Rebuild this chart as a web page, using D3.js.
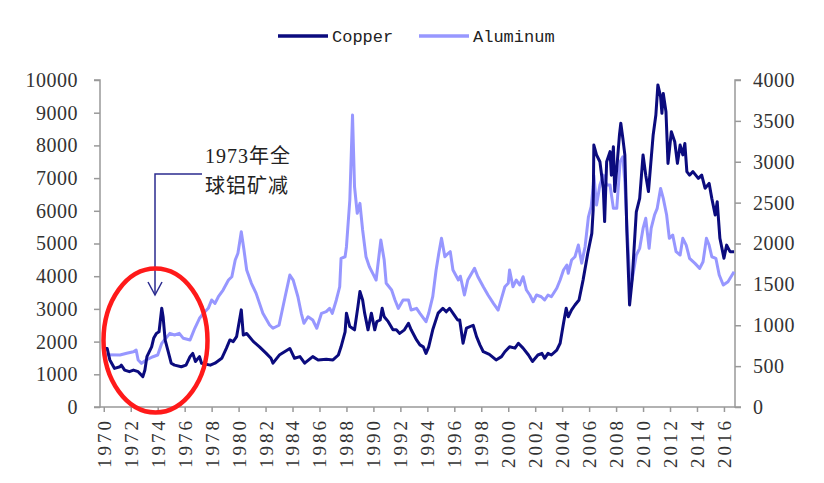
<!DOCTYPE html>
<html>
<head>
<meta charset="utf-8">
<script src="https://cdn.jsdelivr.net/npm/d3@7/dist/d3.min.js"></script>
<style>
  html, body { margin: 0; padding: 0; background: #fff; }
  svg { display: block; }
</style>
</head>
<body>
<div id="chart"></div>
<script>
// ---- Data ----
const seriesNames = ["Copper", "Aluminum"];
const yearTicks = d3.range(1970, 2017, 2);
const leftTicks = [0,1000,2000,3000,4000,5000,6000,7000,8000,9000,10000];
const rightTicks = [0,500,1000,1500,2000,2500,3000,3500,4000];

const copperYears = [1970.0,1970.25,1970.45,1970.8,1971.2,1971.3,1971.55,1971.9,1972.2,1972.55,1972.9,1973.05,1973.2,1973.55,1973.7,1973.9,1974.1,1974.3,1974.4,1974.55,1974.75,1975.0,1975.25,1975.75,1976.1,1976.4,1976.6,1976.8,1977.1,1977.25,1977.9,1978.25,1978.75,1979.1,1979.35,1979.6,1979.85,1980.2,1980.35,1980.6,1981.1,1981.55,1982.05,1982.4,1982.55,1983.05,1983.8,1984.15,1984.55,1984.9,1985.5,1985.9,1986.5,1987.0,1987.4,1987.6,1987.9,1988.0,1988.25,1988.6,1988.85,1989.0,1989.2,1989.35,1989.6,1989.85,1990.1,1990.25,1990.5,1990.65,1990.8,1991.1,1991.45,1991.7,1991.95,1992.3,1992.6,1992.8,1993.2,1993.45,1993.7,1993.9,1994.1,1994.4,1994.8,1995.15,1995.4,1995.65,1996.0,1996.25,1996.4,1996.65,1996.9,1997.4,1997.65,1997.9,1998.15,1998.6,1999.1,1999.5,1999.75,2000.1,2000.5,2000.75,2001.1,2001.5,2001.8,2002.2,2002.5,2002.7,2002.95,2003.2,2003.6,2003.85,2004.1,2004.3,2004.45,2004.7,2004.95,2005.25,2005.55,2005.9,2006.2,2006.3,2006.35,2006.55,2006.8,2007.05,2007.15,2007.3,2007.55,2007.65,2007.8,2007.9,2008.05,2008.25,2008.35,2008.5,2008.65,2008.8,2009.0,2009.2,2009.5,2009.75,2010.0,2010.2,2010.4,2010.75,2010.95,2011.1,2011.3,2011.4,2011.5,2011.7,2011.85,2012.1,2012.35,2012.55,2012.75,2012.95,2013.1,2013.25,2013.45,2013.7,2014.1,2014.35,2014.6,2014.9,2015.1,2015.35,2015.5,2015.7,2016.0,2016.2,2016.45,2016.75];
const copperValues = [1800,1790,1440,1180,1230,1280,1130,1080,1130,1080,930,1130,1540,1840,2100,2250,2300,3020,2760,2050,1740,1340,1280,1230,1280,1540,1640,1390,1540,1340,1280,1340,1490,1800,2050,2000,2150,2970,2200,2250,2000,1840,1640,1490,1340,1600,1790,1490,1540,1340,1540,1440,1460,1440,1590,1840,2300,2870,2460,2360,3070,3530,3270,2870,2360,2870,2360,2610,2660,3020,2760,2610,2360,2360,2250,2360,2560,2360,2050,1900,1840,1640,1840,2360,2870,3020,2910,3020,2810,2660,2660,1950,2410,2500,2150,1900,1690,1610,1440,1540,1690,1840,1800,1950,1800,1590,1390,1590,1640,1490,1640,1590,1740,1950,2560,3020,2760,2970,3120,3270,3880,4700,5310,6020,8010,7710,7500,6690,5670,7500,7810,7090,7960,6590,7300,8320,8680,8220,7710,5360,3120,3930,5970,6380,7710,7090,6590,8320,8930,9850,9490,8980,9590,9030,7450,8420,8110,7450,8010,7710,8060,7200,7090,7200,6990,7090,6690,6840,6380,5870,6280,5160,4550,4950,4750,4750];

const aluminumYears = [1970.0,1971.2,1971.7,1972.2,1972.4,1972.55,1972.8,1973.15,1973.65,1974.0,1974.3,1974.5,1974.9,1975.25,1975.6,1975.9,1976.4,1976.5,1976.75,1977.1,1977.4,1977.75,1978.0,1978.25,1978.5,1978.85,1979.25,1979.5,1979.75,1979.95,1980.2,1980.4,1980.6,1980.95,1981.3,1981.8,1982.3,1982.55,1983.0,1983.45,1983.8,1984.05,1984.4,1984.65,1984.85,1985.15,1985.5,1985.8,1986.15,1986.5,1986.75,1986.95,1987.25,1987.5,1987.6,1987.9,1988.0,1988.25,1988.45,1988.6,1988.8,1989.0,1989.2,1989.45,1989.7,1989.95,1990.2,1990.55,1990.8,1990.95,1991.35,1991.6,1991.85,1992.2,1992.6,1992.8,1993.2,1993.45,1993.9,1994.1,1994.4,1994.65,1994.85,1995.05,1995.3,1995.55,1995.7,1995.9,1996.3,1996.45,1996.75,1997.0,1997.5,1997.75,1998.15,1998.5,1998.9,1999.25,1999.5,1999.75,2000.0,2000.1,2000.35,2000.6,2000.85,2001.1,2001.35,2001.6,2001.85,2002.1,2002.45,2002.7,2002.95,2003.2,2003.6,2003.85,2004.1,2004.35,2004.45,2004.7,2004.95,2005.2,2005.45,2005.7,2005.95,2006.15,2006.3,2006.35,2006.55,2006.8,2007.05,2007.3,2007.55,2007.8,2008.05,2008.3,2008.5,2008.65,2008.8,2009.05,2009.25,2009.5,2009.75,2010.0,2010.2,2010.45,2010.6,2010.85,2011.05,2011.3,2011.5,2011.75,2011.95,2012.2,2012.45,2012.75,2012.95,2013.2,2013.45,2013.85,2014.2,2014.45,2014.7,2014.9,2015.1,2015.4,2015.65,2015.95,2016.3,2016.75];
const aluminumValues = [640,636,657,676,697,575,534,575,615,636,779,820,901,881,901,840,820,860,963,1085,1146,1207,1309,1268,1349,1431,1553,1594,1798,1880,2144,1920,1676,1513,1390,1146,1003,963,1000,1349,1614,1553,1349,1146,1024,1104,1064,963,1146,1166,1207,1146,1309,1471,1819,1838,1961,2532,3571,2694,2369,2491,2165,1838,1716,1635,1553,2042,1798,1513,1431,1309,1207,1309,1309,1186,1207,1146,1043,1146,1349,1676,1880,2063,1838,1880,1900,1676,1553,1600,1370,1553,1696,1594,1471,1370,1268,1186,1329,1471,1513,1676,1471,1553,1492,1594,1431,1370,1288,1370,1349,1309,1370,1349,1452,1553,1676,1737,1635,1798,1838,1981,1760,1961,2327,2450,2694,2837,2470,2715,2837,2715,2715,2430,2430,3000,3061,2755,2226,1452,1614,1859,1941,2185,2308,1941,2185,2348,2430,2674,2552,2348,2063,2104,1900,1859,2063,1981,1819,1757,1696,1777,2063,1981,1838,1819,1614,1492,1533,1655];

const annotationLines = ["1973年全", "球铝矿减"];

// ---- Layout ----
const W = 824, H = 483;
const plot = { left: 100, right: 735, top: 80, bottom: 407 };
const copperColor = "#0b0b7e";
const aluminumColor = "#9797ff";
const axisColor = "#999999";
const textColor = "#333333";

const svg = d3.select("#chart").append("svg").attr("width", W).attr("height", H);

const x = d3.scaleLinear().domain([1969.72, 2016.82]).range([plot.left, plot.right]);
const yL = d3.scaleLinear().domain([0, 10000]).range([plot.bottom, plot.top]);
const yR = d3.scaleLinear().domain([0, 4000]).range([plot.bottom, plot.top]);

// Axes
const axisFont = "'Liberation Serif', 'Times New Roman', serif";

const gL = svg.append("g").attr("transform", `translate(${plot.left},0)`)
  .call(d3.axisLeft(yL).tickValues(leftTicks).tickSize(6).tickPadding(16).tickFormat(d3.format("d")));
const gR = svg.append("g").attr("transform", `translate(${plot.right},0)`)
  .call(d3.axisRight(yR).tickValues(rightTicks).tickSize(6).tickPadding(12).tickFormat(d3.format("d")));
const gX = svg.append("g").attr("transform", `translate(0,${plot.bottom})`)
  .call(d3.axisBottom(x).tickValues(yearTicks).tickSize(5).tickFormat(d3.format("d")));

// full-width bottom baseline
[gL, gR, gX].forEach(g => {
  g.select(".domain").attr("stroke", axisColor).attr("stroke-width", 1.5);
  g.selectAll(".tick line").attr("stroke", axisColor).attr("stroke-width", 1.5);
  g.selectAll(".tick text").attr("fill", textColor)
    .style("font-family", axisFont).style("font-size", "20px").style("letter-spacing", "0.5px");
});
gX.select(".domain").attr("d", `M${plot.left},0H${plot.right}`);
gL.select(".domain").attr("d", `M-6,${plot.top}H0V${plot.bottom}H-6`);
gR.select(".domain").attr("d", `M6,${plot.top}H0V${plot.bottom}H6`);

gX.selectAll(".tick text")
  .attr("transform", "rotate(-90)")
  .attr("text-anchor", "end")
  .attr("x", -11).attr("y", 0).attr("dy", "0.34em")
  .style("font-size", "19px").style("letter-spacing", "3px");

// Lines
const copperData = copperYears.map((d, i) => ({ x: d, v: copperValues[i] }));
const aluminumData = aluminumYears.map((d, i) => ({ x: d, v: aluminumValues[i] }));

svg.append("path").datum(aluminumData)
  .attr("fill", "none").attr("stroke", aluminumColor).attr("stroke-width", 3)
  .attr("stroke-linejoin", "round")
  .attr("d", d3.line().x(d => x(d.x)).y(d => yR(d.v)));

svg.append("path").datum(copperData)
  .attr("fill", "none").attr("stroke", copperColor).attr("stroke-width", 3)
  .attr("stroke-linejoin", "round")
  .attr("d", d3.line().x(d => x(d.x)).y(d => yL(d.v)));

// Legend
const legendFont = "'Liberation Mono', 'DejaVu Sans Mono', monospace";
const legend = svg.append("g");
const legendItems = [
  { name: seriesNames[0], color: copperColor, x0: 278 },
  { name: seriesNames[1], color: aluminumColor, x0: 419 }
];
legendItems.forEach(it => {
  legend.append("line").attr("x1", it.x0).attr("x2", it.x0 + 50).attr("y1", 36).attr("y2", 36)
    .attr("stroke", it.color).attr("stroke-width", 3.5);
  legend.append("text").attr("x", it.x0 + 54).attr("y", 42)
    .attr("fill", "#222").style("font-family", legendFont).style("font-size", "17px")
    .text(it.name);
});

// Annotation
const ax = x(1973.8);
const ann = svg.append("g");
ann.append("path")
  .attr("d", `M202,174H${ax}V295`)
  .attr("fill", "none").attr("stroke", "#2b2b8f").attr("stroke-width", 1.5);
ann.append("path")
  .attr("d", `M${ax - 7},282L${ax},295L${ax + 7},282`)
  .attr("fill", "none").attr("stroke", "#2b2b8f").attr("stroke-width", 1.5);
annotationLines.forEach((t, i) => {
  ann.append("text").attr("x", 205).attr("y", 163 + i * 30)
    .attr("fill", "#222")
    .style("font-family", "'Liberation Serif', 'Noto Sans CJK SC', serif")
    .style("font-size", "20px").style("letter-spacing", "1px")
    .text(t);
});

// Red ellipse highlight
svg.append("ellipse")
  .attr("cx", 155.5).attr("cy", 340.5).attr("rx", 52).attr("ry", 72)
  .attr("fill", "none").attr("stroke", "#ff1a1a").attr("stroke-width", 4.5);
</script>
</body>
</html>
